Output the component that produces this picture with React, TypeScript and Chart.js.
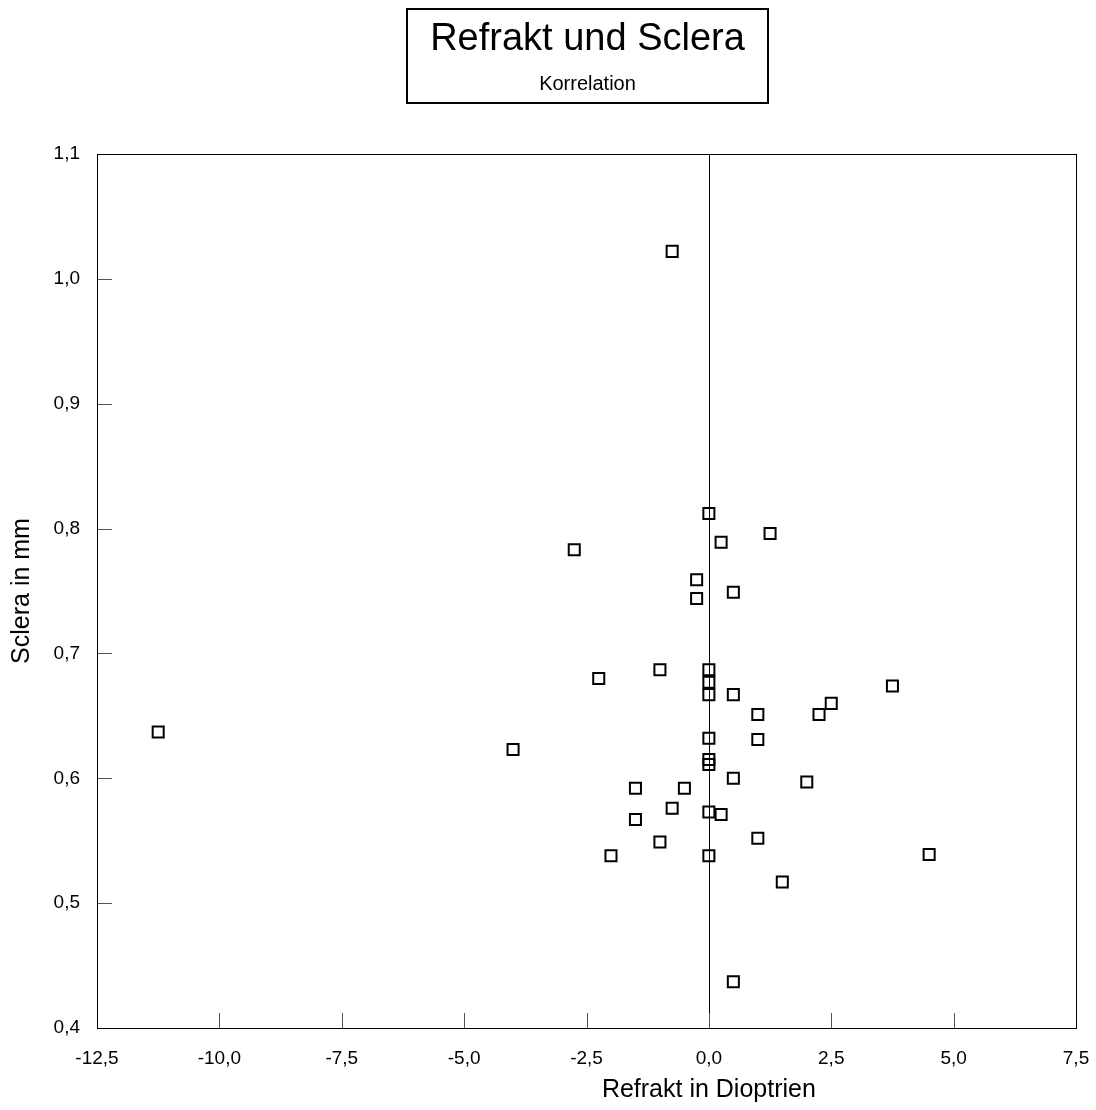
import React, { useEffect, useRef } from "react";
import { Chart, registerables } from "chart.js";

Chart.register(...registerables);

const chartTitle = "Refrakt und Sclera";
const chartSubtitle = "Korrelation";
const xAxisTitle = "Refrakt in Dioptrien";
const yAxisTitle = "Sclera in mm";

const refraktValues = [
  -0.75, 0, 1.25, 0.25, -2.75, -0.25, -0.25, 0.5, -1.0, -2.25,
  0, 0, 0, 0.5, 1.0, 2.25, 2.5, 3.75, 0, 1.0,
  0, 0, 0.5, 2.0, -1.5, -0.5, -0.75, 0, 0.25, -1.5,
  1.0, -1.0, -2.0, 0, 1.5, -11.25, -4.0, 4.5, 0.5,
];
const scleraValues = [
  1.022, 0.812, 0.796, 0.789, 0.783, 0.759, 0.744, 0.749, 0.687, 0.680,
  0.687, 0.677, 0.667, 0.667, 0.651, 0.651, 0.660, 0.674, 0.632, 0.631,
  0.615, 0.611, 0.600, 0.597, 0.592, 0.592, 0.576, 0.573, 0.571, 0.567,
  0.552, 0.549, 0.538, 0.538, 0.517, 0.637, 0.623, 0.539, 0.437,
];

const xMin = -12.5;
const xMax = 7.5;
const xStep = 2.5;
const yMin = 0.4;
const yMax = 1.1;
const yStep = 0.1;

const FONT = "'Liberation Sans', Arial, sans-serif";

const fmt = (v: number, d: number) => v.toFixed(d).replace(".", ",");

const decorPlugin = {
  id: "decor",
  beforeDatasetsDraw(chart: any) {
    const { ctx, chartArea } = chart;
    const { left, right, top, bottom } = chartArea;
    const xs = chart.scales.x;
    const ys = chart.scales.y;
    ctx.save();
    // zero line
    const x0 = Math.round(xs.getPixelForValue(0)) + 0.5;
    ctx.strokeStyle = "#000";
    ctx.lineWidth = 1;
    ctx.beginPath();
    ctx.moveTo(x0, top);
    ctx.lineTo(x0, bottom);
    ctx.stroke();
    // inward tick marks
    ctx.strokeStyle = "#555";
    ctx.beginPath();
    xs.ticks.forEach((t: any) => {
      const px = Math.round(xs.getPixelForValue(t.value)) + 0.5;
      ctx.moveTo(px, bottom);
      ctx.lineTo(px, bottom - 15);
    });
    ys.ticks.forEach((t: any) => {
      const py = Math.round(ys.getPixelForValue(t.value)) + 0.5;
      ctx.moveTo(left, py);
      ctx.lineTo(left + 15, py);
    });
    ctx.stroke();
    // frame
    ctx.strokeStyle = "#000";
    ctx.strokeRect(Math.round(left) + 0.5, Math.round(top) + 0.5, Math.round(right - left), Math.round(bottom - top));
    ctx.restore();
  },
  afterDraw(chart: any) {
    const { ctx, chartArea } = chart;
    const { top, bottom } = chartArea;
    ctx.save();
    // title box
    ctx.strokeStyle = "#000";
    ctx.lineWidth = 2;
    ctx.strokeRect(407, 9, 361, 94);
    ctx.fillStyle = "#000";
    ctx.textAlign = "center";
    ctx.textBaseline = "alphabetic";
    ctx.font = `38px ${FONT}`;
    ctx.fillText(chartTitle, 587.5, 50);
    ctx.font = `20px ${FONT}`;
    ctx.fillText(chartSubtitle, 587.5, 90);
    // x axis title, centred on the zero line
    const xs = chart.scales.x;
    ctx.font = `25px ${FONT}`;
    ctx.textBaseline = "middle";
    ctx.fillText(xAxisTitle, xs.getPixelForValue(0), 1090);
    // y axis title
    ctx.translate(22, (top + bottom) / 2);
    ctx.rotate(-Math.PI / 2);
    ctx.fillText(yAxisTitle, 0, 0);
    ctx.restore();
  },
};

export default function App() {
  const canvasRef = useRef<HTMLCanvasElement | null>(null);

  useEffect(() => {
    const canvas = canvasRef.current;
    if (!canvas) return;
    const points = refraktValues.map((x, i) => ({ x, y: scleraValues[i] }));
    const chart = new Chart(canvas, {
      type: "scatter",
      data: {
        datasets: [
          {
            data: points,
            pointStyle: "rect",
            pointRadius: 7.8,
            pointHoverRadius: 7.8,
            borderColor: "#000",
            backgroundColor: "rgba(0,0,0,0)",
            borderWidth: 2,
          },
        ],
      },
      options: {
        responsive: false,
        animation: false,
        devicePixelRatio: 1,
        layout: { padding: { top: 154, right: 20, left: 0, bottom: 0 } },
        plugins: {
          legend: { display: false },
          tooltip: { enabled: false },
          title: { display: false },
        },
        scales: {
          x: {
            type: "linear",
            min: xMin,
            max: xMax,
            grid: { display: false, drawTicks: false },
            border: { display: false },
            ticks: {
              stepSize: xStep,
              padding: 19,
              color: "#000",
              font: { family: FONT, size: 19 },
              maxRotation: 0,
              callback: (v: any) => fmt(Number(v), 1),
            },
            afterFit: (scale: any) => {
              scale.height = 82;
              scale.paddingLeft = 0;
              scale.paddingRight = 0;
            },
          },
          y: {
            type: "linear",
            min: yMin,
            max: yMax,
            grid: { display: false, drawTicks: false },
            border: { display: false },
            ticks: {
              stepSize: yStep,
              padding: 17,
              color: "#000",
              font: { family: FONT, size: 19 },
              callback: (v: any) => fmt(Number(v), 1),
            },
            afterFit: (scale: any) => {
              scale.width = 97;
              scale.paddingTop = 0;
              scale.paddingBottom = 0;
            },
          },
        },
      },
      plugins: [decorPlugin],
    });
    return () => chart.destroy();
  }, []);

  return (
    <div style={{ position: "absolute", left: 0, top: 0, width: 1096, height: 1110, background: "#fff" }}>
      <canvas ref={canvasRef} width={1096} height={1110} style={{ display: "block", width: 1096, height: 1110 }} />
    </div>
  );
}
